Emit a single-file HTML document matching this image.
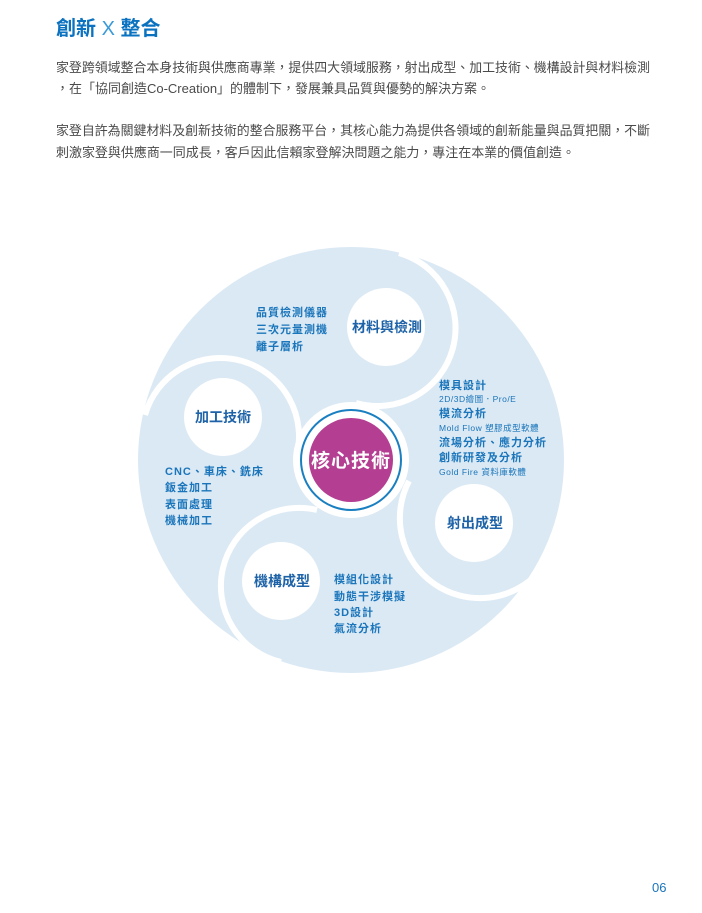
<!DOCTYPE html>
<html><head><meta charset="utf-8">
<style>
html,body{margin:0;padding:0;background:#fff;}
svg{display:block;}
text{font-family:"Liberation Sans","Noto Sans CJK TC",sans-serif;}
</style></head>
<body>
<svg width="702" height="913" viewBox="0 0 702 913" xmlns="http://www.w3.org/2000/svg">
<text x="56" y="35" font-size="20" font-weight="bold" fill="#0b72c0">創新 <tspan font-weight="normal" fill="#3a9ad9">X</tspan> 整合</text>
<g font-size="13" fill="#4a4a4a">
<text x="56" y="72" textLength="594" lengthAdjust="spacingAndGlyphs">家登跨領域整合本身技術與供應商專業，提供四大領域服務，射出成型、加工技術、機構設計與材料檢測</text>
<text x="56" y="93" textLength="434" lengthAdjust="spacingAndGlyphs">，在「協同創造Co-Creation」的體制下，發展兼具品質與優勢的解決方案。</text>
<text x="56" y="135" textLength="594" lengthAdjust="spacingAndGlyphs">家登自許為關鍵材料及創新技術的整合服務平台，其核心能力為提供各領域的創新能量與品質把關，不斷</text>
<text x="56" y="157" textLength="519" lengthAdjust="spacingAndGlyphs">刺激家登與供應商一同成長，客戶因此信賴家登解決問題之能力，專注在本業的價值創造。</text>
</g>
<circle cx="351" cy="460" r="213" fill="#dbe9f4"/>
<g fill="none" stroke="#fff" stroke-width="6">
<path d="M399 253 A78 78 0 0 1 356 403"/>
<path d="M145 415 A78 78 0 0 1 296 458"/>
<path d="M281 662 A78 78 0 0 1 317 510"/>
<path d="M409 481 A80 80 0 0 0 539 572"/>
</g>
<g fill="#fff">
<circle cx="386" cy="327" r="39"/>
<circle cx="223" cy="417" r="39"/>
<circle cx="474" cy="523" r="39"/>
<circle cx="281" cy="581" r="39"/>
<circle cx="351" cy="460" r="58"/>
</g>
<circle cx="351" cy="460" r="50" fill="none" stroke="#1a7fc1" stroke-width="2"/>
<circle cx="351" cy="460" r="42" fill="#b43f92"/>
<text x="351" y="467" font-size="19" font-weight="bold" fill="#fff" text-anchor="middle" letter-spacing="1">核心技術</text>
<g font-size="14" font-weight="bold" fill="#1e63a8" text-anchor="middle">
<text x="387" y="332">材料與檢測</text>
<text x="223" y="422">加工技術</text>
<text x="475" y="528">射出成型</text>
<text x="282" y="586">機構成型</text>
</g>
<g font-size="11" font-weight="bold" fill="#1a75bb" letter-spacing="1">
<text x="256" y="316">品質檢測儀器</text>
<text x="256" y="333">三次元量測機</text>
<text x="256" y="350">離子層析</text>
<text x="165" y="475">CNC、車床、銑床</text>
<text x="165" y="491">鈑金加工</text>
<text x="165" y="508">表面處理</text>
<text x="165" y="524">機械加工</text>
<text x="334" y="583">模組化設計</text>
<text x="334" y="600">動態干涉模擬</text>
<text x="334" y="616">3D設計</text>
<text x="334" y="632">氣流分析</text>
<text x="439" y="389">模具設計</text>
<text x="439" y="417">模流分析</text>
<text x="439" y="446">流場分析、應力分析</text>
<text x="439" y="461">創新研發及分析</text>
</g>
<g font-size="8.5" fill="#1a75bb" letter-spacing="0.5">
<text x="439" y="402">2D/3D繪圖．Pro/E</text>
<text x="439" y="431">Mold Flow 塑膠成型軟體</text>
<text x="439" y="475">Gold Fire 資料庫軟體</text>
</g>
<text x="652" y="892" font-size="13" fill="#1a75bb">06</text>
</svg>
</body></html>
